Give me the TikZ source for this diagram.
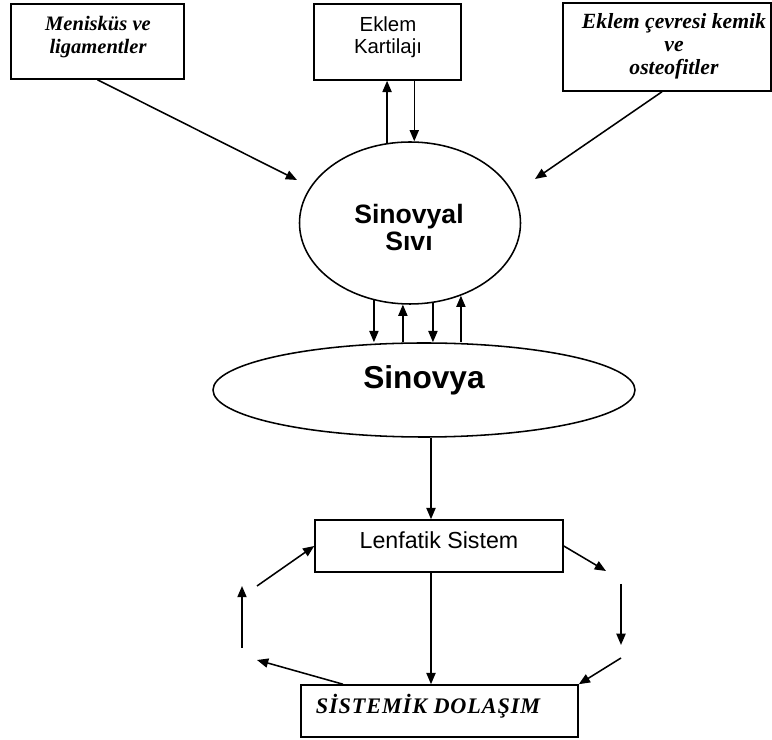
\documentclass[tikz,border=0pt]{standalone}
\usepackage{fontspec}
\setmainfont{Liberation Serif}
\setsansfont{Liberation Sans}
\usepackage{tikz}
\usetikzlibrary{positioning,arrows.meta,shapes.geometric,calc}

\newcommand{\pxu}{0.025cm}

\begin{document}
\begin{tikzpicture}[x=\pxu,y=-\pxu,line width=1.1pt,
  bx/.style={draw,rectangle,inner sep=0pt},
  ov/.style={draw,ellipse,inner sep=0pt},
  ar/.style={-{Triangle[length=8pt,width=6.5pt]}},
  itx/.style={align=center,font=\fontsize{14.6pt}{15.8pt}\selectfont\bfseries\itshape},
  stx/.style={align=center,font=\fontsize{14.5pt}{15.6pt}\selectfont\sffamily}]
\useasboundingbox (0,0) rectangle (772,740);
% kutular
\node[bx,minimum width=173*\pxu,minimum height=75*\pxu] (men) at (97.5,41.5) {};
\node[bx,minimum width=147*\pxu,minimum height=76*\pxu] (ekl) at (387.5,42) {};
\node[bx,minimum width=208*\pxu,minimum height=88*\pxu] (cev) at (667,47) {};
\node[itx] (mentx) at (98,37) {Menisküs ve\\ligamentler};
\node[stx] (ekltx) at (388,37) {Eklem\\Kartilajı};
\node[itx,font=\fontsize{15.4pt}{16.4pt}\selectfont\bfseries\itshape] (cevtx) at (674,46) {Eklem çevresi kemik\\ve\\osteofitler};
% ovaller
\node[ov,minimum width=221*\pxu,minimum height=162*\pxu] (sivi) at (410,223) {};
\node[stx,font=\fontsize{18.9pt}{19.2pt}\selectfont\sffamily\bfseries] (sivitx) at (409,228) {Sinovyal\\Sıvı};
\node[ov,minimum width=422*\pxu,minimum height=94*\pxu] (sinovya) at (424,390) {};
\node[font=\fontsize{22.5pt}{24pt}\selectfont\sffamily\bfseries] (sinovyatx) at (424,380) {Sinovya};
% alt kutular
\node[bx,minimum width=248*\pxu,minimum height=52*\pxu] (lenf) at (439,546) {};
\node[stx,font=\fontsize{16.5pt}{18pt}\selectfont\sffamily] (lenftx) at (439,540) {Lenfatik Sistem};
\node[bx,minimum width=277*\pxu,minimum height=52*\pxu] (sist) at (439.5,711) {};
\node[itx,font=\fontsize{15.8pt}{16pt}\selectfont\bfseries\itshape\addfontfeature{LetterSpace=4}] (sisttx) at (428,706) {SİSTEMİK DOLAŞIM};
% serbest uclar
\coordinate (mentip) at (297,180);
\coordinate (cevtip) at (535,179);
\coordinate (r1) at (606,571);
\coordinate (r2a) at (621,584);
\coordinate (r2b) at (621,645);
\coordinate (r3a) at (621,658);
\coordinate (l1) at (257,660);
\coordinate (l2a) at (242,648);
\coordinate (l2b) at (242,586);
\coordinate (l3a) at (257,586);
% oklar
\draw[ar] (men.south) -- (mentip);
\draw[ar] ([xshift=-5*\pxu]cev.south) -- (cevtip);
\draw[ar] (sivi.106) -- (sivi.106 |- ekl.south);
\draw[ar] (sivi.87 |- ekl.south) -- (sivi.87);
\draw[ar] (sivi.245) -- (sivi.245 |- sinovya.north);
\draw[ar] (sivi.265 |- sinovya.north) -- (sivi.265);
\draw[ar] (sivi.286) -- (sivi.286 |- sinovya.north);
\draw[ar] (sivi.305 |- sinovya.north) -- (sivi.305);
\draw[ar] ([xshift=7*\pxu]sinovya.south) -- ([xshift=7*\pxu]sinovya.south |- lenf.north);
\draw[ar] ([xshift=-8*\pxu]lenf.south) -- ([xshift=-8*\pxu]lenf.south |- sist.north);
% dolasim
\draw[ar] (lenf.east) -- (r1);
\draw[ar] (r2a) -- (r2b);
\draw[ar] (r3a) -- (sist.north east);
\draw[ar] ([xshift=-96.5*\pxu]sist.north) -- (l1);
\draw[ar] (l2a) -- (l2b);
\draw[ar] (l3a) -- (lenf.west);
\end{tikzpicture}
\end{document}
